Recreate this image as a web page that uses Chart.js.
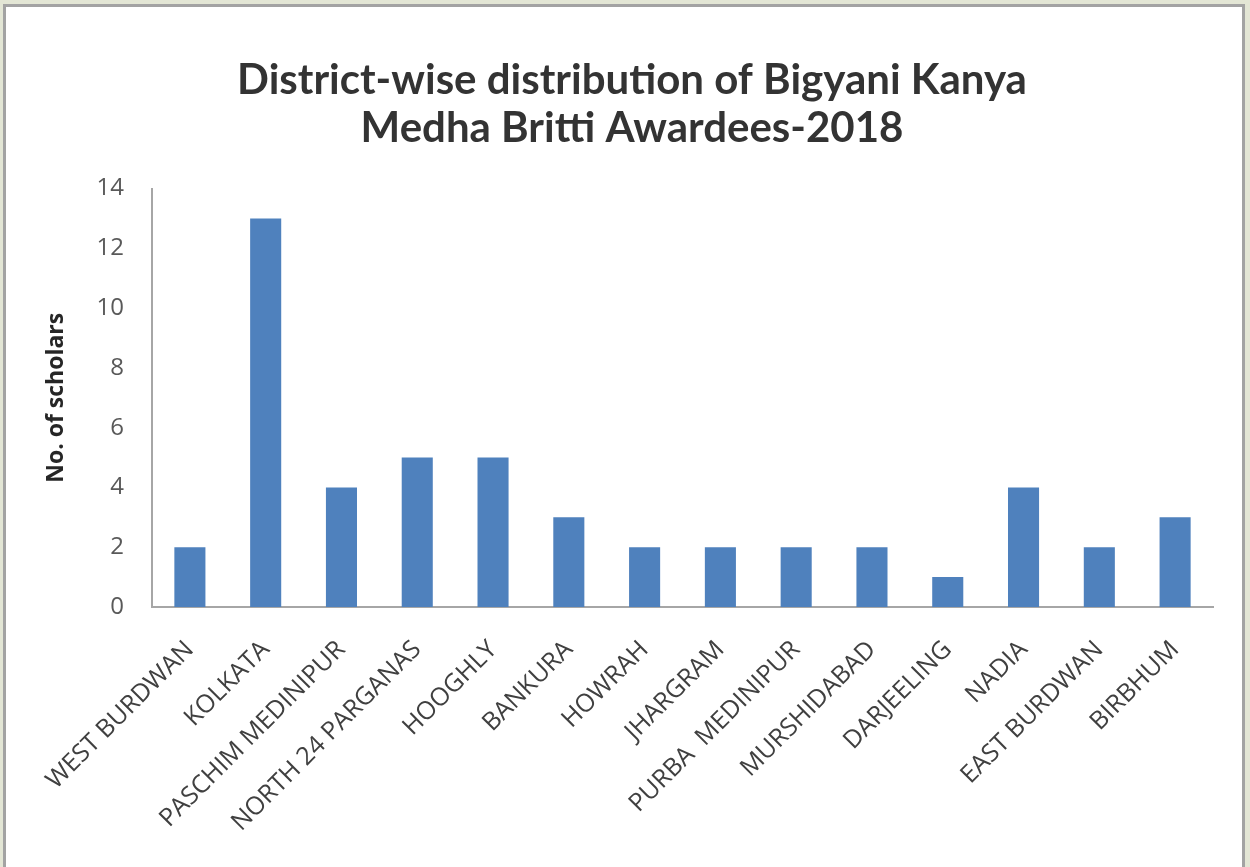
<!DOCTYPE html>
<html>
<head>
<meta charset="utf-8">
<script src="https://cdn.jsdelivr.net/npm/chart.js@4"></script>
<style>
  html, body { margin: 0; padding: 0; }
  body { width: 1250px; height: 867px; background: #e3e6d5; position: relative; overflow: hidden; }
  #frame { position: absolute; left: 3px; top: 4px; width: 1236px; height: 880px; border: 3px solid #a3a3a3; background: #ffffff; }
  #wrap { position: absolute; left: 0; top: 0; width: 1250px; height: 867px; }
</style>
</head>
<body>
<div id="frame"></div>
<div id="wrap"><canvas id="c" width="1250" height="867"></canvas></div>
<script>
const categories = ["WEST BURDWAN", "KOLKATA", "PASCHIM MEDINIPUR", "NORTH 24 PARGANAS", "HOOGHLY", "BANKURA", "HOWRAH", "JHARGRAM", "PURBA  MEDINIPUR", "MURSHIDABAD", "DARJEELING", "NADIA", "EAST BURDWAN", "BIRBHUM"];
const scholars = [2, 13, 4, 5, 5, 3, 2, 2, 2, 2, 1, 4, 2, 3];
const titleLines = ["District-wise distribution of Bigyani Kanya", "Medha Britti Awardees-2018"];
const yAxisTitle = "No. of scholars";
const yMin = 0, yMax = 14, yStep = 2;

new Chart(document.getElementById('c'), {
  type: 'bar',
  data: {
    labels: categories,
    datasets: [{
      data: scholars,
      backgroundColor: '#4f81bd',
      borderWidth: 0,
      barPercentage: 0.41,
      categoryPercentage: 1.0
    }]
  },
  options: {
    responsive: false,
    animation: false,
    layout: { padding: { left: 51, right: 37, top: 56, bottom: 10 } },
    plugins: {
      legend: { display: false },
      tooltip: { enabled: false },
      title: {
        display: true,
        text: titleLines,
        color: '#333333',
        font: { family: 'Lato', size: 42, weight: 'bold', lineHeight: 1.15 },
        padding: { top: 0, bottom: 36 }
      }
    },
    scales: {
      x: {
        grid: { display: false, drawTicks: false },
        border: { display: true, color: '#a6a6a6', width: 2 },
        ticks: {
          color: '#404040',
          font: { family: 'Open Sans', size: 25 },
          maxRotation: 45,
          minRotation: 45,
          autoSkip: false,
          padding: 28,
          labelOffset: 0
        },
        afterFit: (s) => { s.height = 250; s.paddingLeft = 0; s.paddingRight = 0; }
      },
      y: {
        min: yMin,
        max: yMax,
        grid: { display: false, drawTicks: false },
        border: { display: true, color: '#a6a6a6', width: 2 },
        ticks: {
          stepSize: yStep,
          color: '#595959',
          font: { family: 'Open Sans', size: 24 },
          padding: 28
        },
        title: {
          display: true,
          text: yAxisTitle,
          color: '#262626',
          font: { family: 'Open Sans', size: 23, weight: 'bold' },
          padding: { top: -8, bottom: 26 }
        },
        afterFit: (s) => { s.width = 101; s.paddingTop = 0; s.paddingBottom = 0; }
      }
    }
  }
});
</script>
</body>
</html>
